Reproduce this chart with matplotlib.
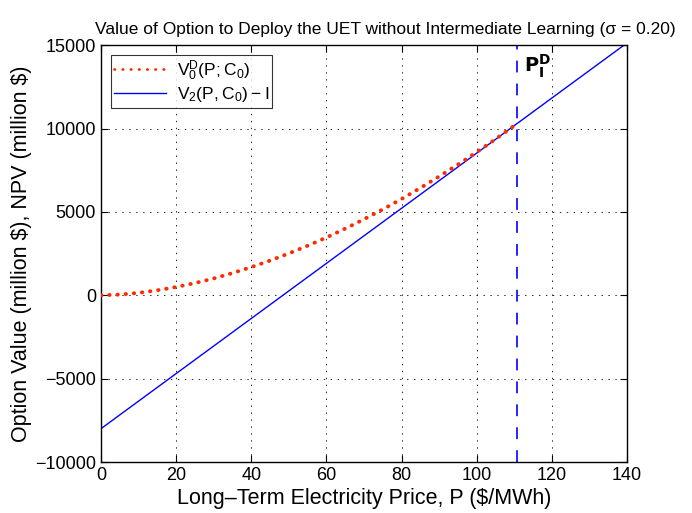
import matplotlib
matplotlib.use("Agg")
import matplotlib.pyplot as plt
import numpy as np

plt.rcParams['font.family'] = ['Liberation Sans', 'DejaVu Sans']
plt.rcParams['lines.scale_dashes'] = False

# Option value curve V0^D(P; C0)
price_opt = [0, 5, 10, 15, 20, 25, 30, 35, 40, 45, 50, 55, 60, 65, 70, 75, 80, 85, 90, 95, 100, 105, 110.8]
value_opt = [0, 40, 145, 300, 495, 730, 1010, 1330, 1690, 2080, 2510, 2970, 3465, 3995, 4560, 5150, 5775, 6435, 7125, 7840, 8585, 9360, 10300]

# NPV line V2(P, C0) - I
price_npv = [0, 140]
value_npv = [-8000, 15130]

# Trigger price
p_trigger = 110.8

fig = plt.figure(figsize=(6.92, 5.13), dpi=100)
ax = fig.add_axes([0.146, 0.0994, 0.760, 0.8126])

ax.plot(price_opt, value_opt, color='#ff2a00', linewidth=2.8,
        linestyle=(0, (0.3, 5.6)), dash_capstyle='round',
        label=r'$\mathregular{V_0^D(P; C_0)}$', zorder=3)
ax.plot(price_npv, value_npv, color='#0000ff', linewidth=1.0,
        label=r'$\mathregular{V_2(P, C_0) - I}$', zorder=2)
ax.axvline(p_trigger, color='#0000ff', linewidth=1.2,
           linestyle=(0, (8.5, 8.0)), zorder=2)

ax.text(p_trigger + 1.8, 13750, r'$\mathbf{P_I^D}$', fontsize=14,
        fontweight='bold', va='center', ha='left')

ax.set_xlim(0, 140)
ax.set_ylim(-10000, 15000)
ax.set_xticks(np.arange(0, 141, 20))
ax.set_yticks(np.arange(-10000, 15001, 5000))
ax.grid(True, color='black', linestyle=(0, (1, 4)), linewidth=0.6)
ax.tick_params(direction='in', top=True, right=True, labelsize=13, length=5)
for s in ax.spines.values():
    s.set_linewidth(1.0)

ax.set_title('Value of Option to Deploy the UET without Intermediate Learning (σ = 0.20)',
             fontsize=12.5, pad=8, x=0.54)
ax.set_xlabel('Long\u2013Term Electricity Price, P (\\$/MWh)', fontsize=15.5, labelpad=3)
ax.set_ylabel('Option Value (million \\$), NPV (million \\$)', fontsize=15.5, labelpad=2)

leg = ax.legend(loc='upper left', fontsize=12.5, frameon=True, fancybox=False,
                edgecolor='black', borderaxespad=0.55, handlelength=3.0,
                borderpad=0.2, labelspacing=0.15, handletextpad=0.6)
leg.get_frame().set_linewidth(0.8)
leg.get_lines()[0].set_linewidth(2.0)

fig.savefig('out.png', dpi=100)
